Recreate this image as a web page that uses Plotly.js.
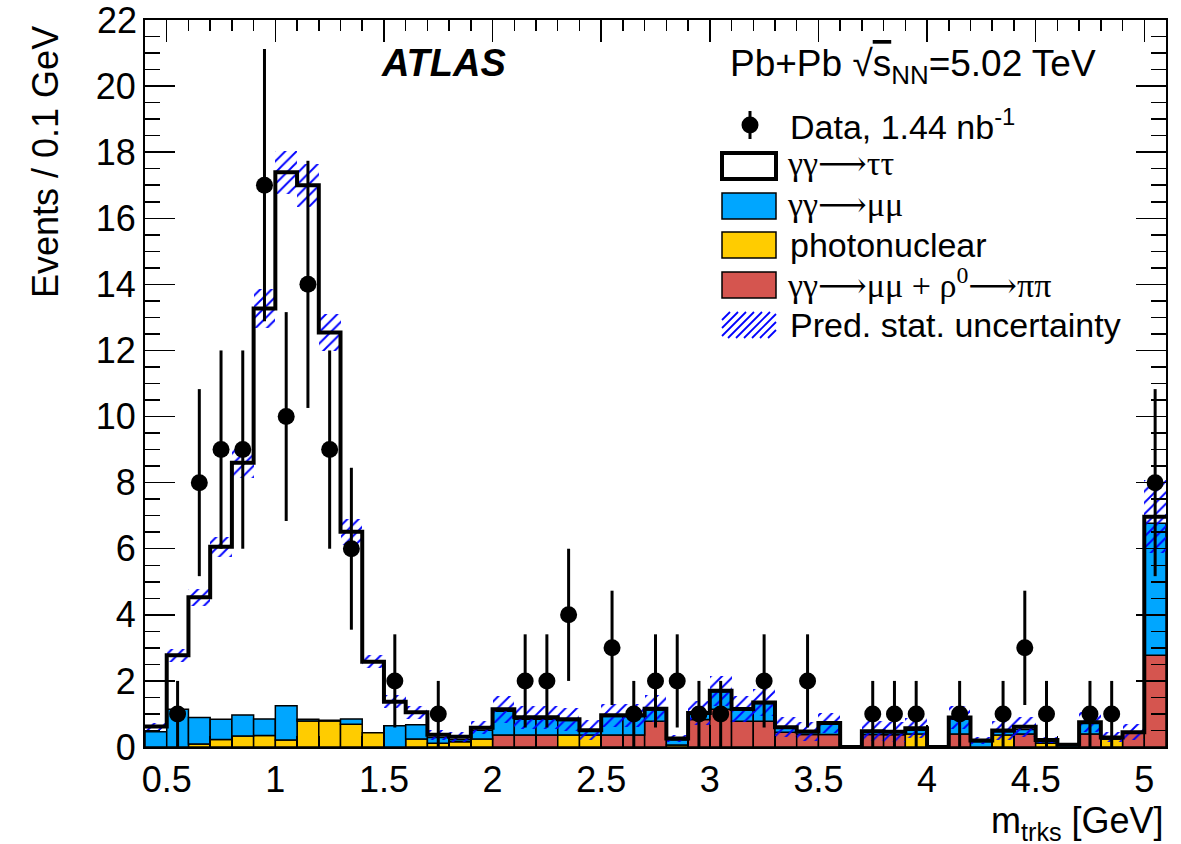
<!DOCTYPE html>
<html><head><meta charset="utf-8">
<script src="https://cdn.plot.ly/plotly-3.0.1.min.js"></script>
<style>html,body{margin:0;padding:0;background:#fff}#chart{width:1181px;height:844px}</style>
</head><body><div id="chart"></div>
<script>
// ---------------- data ----------------
const binLow = [0.4,0.5,0.6,0.7,0.8,0.9,1.0,1.1,1.2,1.3,1.4,1.5,1.6,1.7,1.8,1.9,2.0,2.1,2.2,2.3,2.4,2.5,2.6,2.7,2.8,2.9,3.0,3.1,3.2,3.3,3.4,3.5,3.6,3.7,3.8,3.9,4.0,4.1,4.2,4.3,4.4,4.5,4.6,4.7,4.8,4.9,5.0];
const binWidth = 0.1;
// gamma gamma -> mu mu + rho0 -> pi pi
const redVals = [0,0,0,0,0,0,0,0,0,0,0,0,0,0,0,0,0.36,0.36,0.36,0,0,0.36,0.36,0.78,0,0.83,1.14,0.78,0.78,0.45,0.38,0.38,0,0.38,0.37,0,0,0.39,0,0,0.39,0,0,0.39,0,0.43,2.78];
// photonuclear
const yellowVals = [0,0,0.09,0.23,0.33,0.35,0.21,0.79,0.79,0.69,0.43,0,0.24,0.11,0.16,0.24,0,0,0,0.36,0.36,0,0,0,0.06,0,0,0,0,0,0,0,0,0,0,0.39,0,0,0,0.36,0,0.11,0,0,0.24,0,0];
// gamma gamma -> mu mu
const blueVals = [0.46,1.14,0.80,0.61,0.64,0.50,1.04,0.05,0.02,0.16,0,0.64,0.43,0.18,0.06,0.27,0.72,0.48,0.48,0.44,0.13,0.56,0.56,0.34,0.15,0.17,0.53,0.34,0.54,0.13,0.06,0.33,0,0.08,0.08,0.12,0,0.45,0.16,0.10,0.14,0.06,0.06,0.33,0.03,0,3.99];
// gamma gamma -> tau tau
const tauVals = [0.16,1.64,3.64,5.22,7.63,12.42,16.14,16.16,11.73,5.66,2.15,0.73,0.38,0.08,0.09,0.07,0.06,0.06,0.06,0.04,0.02,0.04,0.04,0.04,0.05,0.03,0.03,0.03,0.03,0.02,0.03,0.02,0,0.02,0.01,0.06,0,0.05,0.04,0.04,0.08,0.04,0.01,0.03,0.02,0.02,0.20];
// prediction stat. uncertainty (half width)
const uncVals = [0.10,0.20,0.25,0.30,0.45,0.60,0.65,0.65,0.55,0.40,0.20,0.20,0.20,0.15,0.15,0.20,0.40,0.35,0.35,0.35,0.30,0.35,0.35,0.40,0.10,0.35,0.45,0.40,0.40,0.30,0.30,0.30,0,0.30,0.30,0.30,0,0.35,0.10,0.30,0.30,0.10,0.05,0.30,0.15,0.25,1.10];
// data
const dataX = [0.55,0.65,0.75,0.85,0.95,1.05,1.15,1.25,1.35,1.55,1.75,2.15,2.25,2.35,2.55,2.65,2.75,2.85,2.95,3.05,3.25,3.45,3.75,3.85,3.95,4.15,4.35,4.45,4.55,4.75,4.85,5.05];
const dataY = [1,8,9,9,17,10,14,9,6,2,1,2,2,4,3,1,2,2,1,1,2,2,1,1,1,1,1,3,1,1,1,8];
const dataErr = [1,2.83,3,3,4.12,3.16,3.74,3,2.45,1.41,1,1.41,1.41,2,1.73,1,1.41,1.41,1,1,1.41,1.41,1,1,1,1,1,1.73,1,1,1,2.83];
const xTickVals = [0.5,1,1.5,2,2.5,3,3.5,4,4.5,5];
const xTickText = ['0.5','1','1.5','2','2.5','3','3.5','4','4.5','5'];
const yTickVals = [0,2,4,6,8,10,12,14,16,18,20,22];
const yTickText = ['0','2','4','6','8','10','12','14','16','18','20','22'];
const legendLabels = ['Data, 1.44 nb<sup>-1</sup>','γγ⟶ττ','γγ⟶μμ','photonuclear','γγ⟶μμ + ρ<sup>0</sup>⟶ππ','Pred. stat. uncertainty'];

// ---------------- styles ----------------
const RED = '#d5554f', YEL = '#ffcc00', BLUE = '#00a6ff', HATCH = '#0000ff';
const FONT = 'Liberation Sans, Arial, Helvetica, sans-serif';
const SERIF = 'Liberation Serif, DejaVu Serif, Times New Roman, serif';
const W = 1181, H = 844;
const M = {l:145, r:15, t:20, b:97};
const PW = W - M.l - M.r, PH = H - M.t - M.b;
const px = v => (v - M.l) / PW;
const py = v => (H - M.b - v) / PH;

const centers = binLow.map(v => +(v + binWidth/2).toFixed(3));
const nz = a => a.map(v => v > 0 ? v : null);
const cum1 = redVals.slice();
const cum2 = cum1.map((v,i) => v + yellowVals[i]);
const cum3 = cum2.map((v,i) => v + blueVals[i]);
const total = cum3.map((v,i) => v + tauVals[i]);
const outline = {color:'#000', width:1.5};

const traces = [
  {type:'bar', x:centers, y:nz(redVals), base:0, width:binWidth, marker:{color:RED, line:outline}, showlegend:false, hoverinfo:'skip'},
  {type:'bar', x:centers, y:nz(yellowVals), base:cum1, width:binWidth, marker:{color:YEL, line:outline}, showlegend:false, hoverinfo:'skip'},
  {type:'bar', x:centers, y:nz(blueVals), base:cum2, width:binWidth, marker:{color:BLUE, line:outline}, showlegend:false, hoverinfo:'skip'},
  {type:'bar', x:centers, y:uncVals.map(v => v > 0 ? 2*v : null), base:total.map((t,i) => t - uncVals[i]), width:binWidth,
   marker:{color:'rgba(0,0,0,0)', line:{width:0}, pattern:{shape:'/', fgcolor:HATCH, bgcolor:'rgba(0,0,0,0)', size:8, solidity:0.24}},
   showlegend:false, hoverinfo:'skip'},
  {type:'scatter', mode:'lines', x:binLow.concat([binLow[binLow.length-1] + binWidth]), y:total.concat([total[total.length-1]]),
   line:{shape:'hv', color:'#000', width:4}, showlegend:false, hoverinfo:'skip'},
  {type:'scatter', mode:'markers', x:dataX, y:dataY,
   error_y:{type:'data', array:dataErr, thickness:3, width:0, color:'#000'},
   marker:{color:'#000', size:17}, showlegend:false}
];

// ---------------- custom legend ----------------
const shapes = [];
const annotations = [];
const rows = [125, 166, 206, 245, 285, 325];
const sw = {x0:722, x1:776};
shapes.push({type:'line', xref:'paper', yref:'paper', x0:px(750), x1:px(750), y0:py(rows[0]-14), y1:py(rows[0]+14), line:{color:'#000', width:3}});
shapes.push({type:'circle', xref:'paper', yref:'paper', x0:px(741.5), x1:px(758.5), y0:py(rows[0]+8.5), y1:py(rows[0]-8.5), fillcolor:'#000', line:{color:'#000', width:0}});
shapes.push({type:'rect', xref:'paper', yref:'paper', x0:px(sw.x0), x1:px(sw.x1), y0:py(rows[1]+13), y1:py(rows[1]-13), fillcolor:'#fff', line:{color:'#000', width:4}});
[[BLUE,2],[YEL,3],[RED,4]].forEach(([c,r]) => {
  shapes.push({type:'rect', xref:'paper', yref:'paper', x0:px(sw.x0), x1:px(sw.x1), y0:py(rows[r]+13), y1:py(rows[r]-13), fillcolor:c, line:{color:'#000', width:1.5}});
});
(function(){
  const x0 = sw.x0, x1 = sw.x1, yb = rows[5]+13, yt = rows[5]-13, hgt = yb - yt;
  for (let s = x0 - hgt; s < x1; s += 8) {
    let ax = s, ay = yb, bx = s + hgt, by = yt;
    if (ax < x0) { ay = yb - (x0 - ax); ax = x0; }
    if (bx > x1) { by = yt + (bx - x1); bx = x1; }
    if (bx - ax < 1) continue;
    shapes.push({type:'line', xref:'paper', yref:'paper', x0:px(ax), y0:py(ay), x1:px(bx), y1:py(by), line:{color:HATCH, width:1.8}});
  }
})();
legendLabels.forEach((t,i) => {
  const greek = (i === 1 || i === 2 || i === 4);
  annotations.push({xref:'paper', yref:'paper', x:px(greek ? 785 : 788), y:py(rows[i] + (greek ? -2 : 0)), xanchor:'left', yanchor:'middle',
    text:t, showarrow:false, font:{family: greek ? SERIF : FONT, size: greek ? 34 : 34, color:'#000'}});
});
annotations.push({xref:'paper', yref:'paper', x:px(443), y:py(63), xanchor:'center', yanchor:'middle',
  text:'<b><i>ATLAS</i></b>', showarrow:false, font:{family:FONT, size:38, color:'#000'}});
annotations.push({xref:'paper', yref:'paper', x:px(728), y:py(66), xanchor:'left', yanchor:'middle',
  text:'Pb+Pb √<span style="text-decoration:overline">s</span><sub>NN</sub>=5.02 TeV', showarrow:false, font:{family:FONT, size:37, color:'#000'}});
annotations.push({xref:'paper', yref:'paper', x:px(45), y:py(162), xanchor:'center', yanchor:'middle', textangle:-90,
  text:'Events / 0.1 GeV', showarrow:false, font:{family:FONT, size:36, color:'#000'}});
annotations.push({xref:'paper', yref:'paper', x:1, y:py(823), xanchor:'right', yanchor:'middle',
  text:'m<sub>trks</sub> [GeV]', showarrow:false, font:{family:FONT, size:36, color:'#000'}});
// top y tick label (Plotly drops the label sitting on the upper edge)
annotations.push({xref:'paper', yref:'y', x:0, y:yTickVals[yTickVals.length-1], xanchor:'right', yanchor:'middle', xshift:-6,
  text:yTickText[yTickText.length-1], showarrow:false, font:{family:FONT, size:36, color:'#000'}});

const axisCommon = {ticks:'inside', tickcolor:'#000', tickwidth:1.5, showline:true, linecolor:'#000', linewidth:2,
  mirror:'allticks', showgrid:false, zeroline:false, tickfont:{family:FONT, size:36, color:'#000'}};

const layout = {
  width:W, height:H, margin:M, paper_bgcolor:'#fff', plot_bgcolor:'#fff',
  barmode:'overlay', bargap:0, showlegend:false,
  xaxis:Object.assign({}, axisCommon, {range:[0.4,5.1], tickmode:'array', tickvals:xTickVals, ticktext:xTickText, ticklen:22,
    minor:{dtick:0.1, tick0:0.4, ticks:'inside', ticklen:11, tickwidth:1.5, tickcolor:'#000', showgrid:false}}),
  yaxis:Object.assign({}, axisCommon, {range:[0,22], tickmode:'array', tickvals:yTickVals.slice(0,-1), ticktext:yTickText.slice(0,-1), ticklen:30,
    minor:{dtick:0.5, tick0:0, ticks:'inside', ticklen:15, tickwidth:1.5, tickcolor:'#000', showgrid:false}}),
  shapes:shapes, annotations:annotations
};
Plotly.newPlot('chart', traces, layout, {displayModeBar:false, staticPlot:true});
</script></body></html>
